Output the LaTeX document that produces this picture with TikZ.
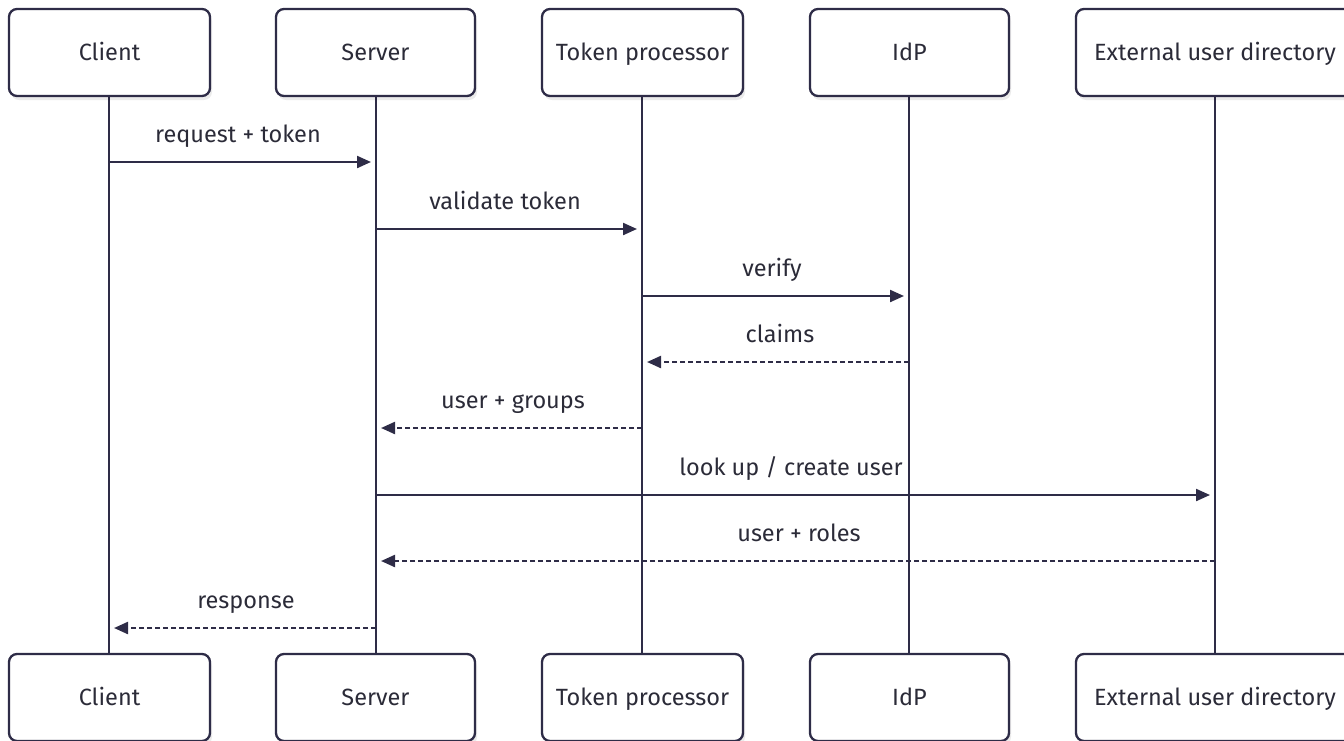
\documentclass[tikz,border=0pt]{standalone}
\usepackage{fontspec}
\setmainfont{Fira Sans}
\usetikzlibrary{arrows.meta,shadows}

\definecolor{ink}{HTML}{2E2C47}
\definecolor{txt}{HTML}{2B2B38}

\tikzset{
  actor/.style={draw=ink, line width=2.3pt, rounded corners=8pt, fill=white,
    minimum height=87pt, inner sep=0pt, text=txt, font=\fontsize{23.5}{26}\selectfont,
    text height=16.5pt, text depth=0pt,
    drop shadow={shadow xshift=2pt, shadow yshift=-4pt, fill=black, opacity=0.08}},
  lifeline/.style={draw=ink, line width=2.2pt},
  msg/.style={draw=ink, line width=2.2pt, -{Triangle[length=14pt,width=12pt]}, shorten >=5pt},
  reply/.style={msg, dash pattern=on 5pt off 3pt},
  lbl/.style={text=txt, font=\fontsize{23.5}{26}\selectfont, inner sep=0pt, anchor=base}
}

\begin{document}
\begin{tikzpicture}[x=1pt, y=-1pt]
\useasboundingbox (0,0) rectangle (1344,740);

% lifelines first so boxes sit on top
\foreach \n/\x in {c/109, s/376, t/642, i/909, e/1215}{
  \coordinate (\n top) at (\x,96);
  \coordinate (\n bot) at (\x,654);
}
\draw[lifeline] (ctop) -- (cbot);
\draw[lifeline] (stop) -- (sbot);
\draw[lifeline] (ttop) -- (tbot);
\draw[lifeline] (itop) -- (ibot);
\draw[lifeline] (etop) -- (ebot);

% participant boxes, top row
\node[actor, minimum width=201pt] (clientA) at (109.5,52.5) {Client};
\node[actor, minimum width=199pt] (serverA) at (375.5,52.5) {Server};
\node[actor, minimum width=201pt] (tokenA) at (642.5,52.5) {Token processor};
\node[actor, minimum width=199pt] (idpA) at (909.5,52.5) {IdP};
\node[actor, minimum width=278pt] (extA) at (1215,52.5) {External user directory};

% participant boxes, bottom row
\node[actor, minimum width=201pt] (clientB) at (109.5,697.5) {Client};
\node[actor, minimum width=199pt] (serverB) at (375.5,697.5) {Server};
\node[actor, minimum width=201pt] (tokenB) at (642.5,697.5) {Token processor};
\node[actor, minimum width=199pt] (idpB) at (909.5,697.5) {IdP};
\node[actor, minimum width=278pt] (extB) at (1215,697.5) {External user directory};

% message anchor points on the lifelines
\foreach \n/\x in {c/109, s/376, t/642, i/909, e/1215}{
  \foreach \k/\y in {1/162, 2/229, 3/296, 4/362, 5/428, 6/495, 7/561, 8/628}{
    \coordinate (\n\k) at (\x,\y);
  }
}

\draw[msg] (c1) -- (s1);
\node[lbl] (m1) at (238,142) {request + token};

\draw[msg] (s2) -- (t2);
\node[lbl] (m2) at (505,209) {validate token};

\draw[msg] (t3) -- (i3);
\node[lbl] (m3) at (772,276) {verify};

\draw[reply] (i4) -- (t4);
\node[lbl] (m4) at (780,342) {claims};

\draw[reply] (t5) -- (s5);
\node[lbl] (m5) at (513,408) {user + groups};

\draw[msg] (s6) -- (e6);
\node[lbl] (m6) at (791,475) {look up / create user};

\draw[reply] (e7) -- (s7);
\node[lbl] (m7) at (799,541) {user + roles};

\draw[reply] (s8) -- (c8);
\node[lbl] (m8) at (246,608) {response};
\end{tikzpicture}
\end{document}
